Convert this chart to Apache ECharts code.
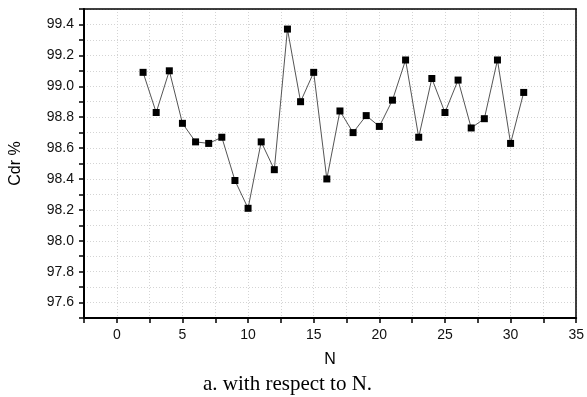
<!DOCTYPE html>
<html>
<head>
<meta charset="utf-8">
<script src="https://cdn.jsdelivr.net/npm/echarts@6/dist/echarts.min.js"></script>
<style>
  html, body { margin: 0; padding: 0; background: #fff; }
  #chart { width: 587px; height: 397px; }
</style>
</head>
<body>
<div id="chart"></div>
<script>
// Cdr % as a function of N
const nValues = [2, 3, 4, 5, 6, 7, 8, 9, 10, 11, 12, 13, 14, 15, 16, 17, 18, 19, 20, 21, 22, 23, 24, 25, 26, 27, 28, 29, 30, 31];
const cdrValues = [99.09, 98.83, 99.10, 98.76, 98.64, 98.63, 98.67, 98.39, 98.21, 98.64, 98.46, 99.37, 98.90, 99.09, 98.40, 98.84, 98.70, 98.81, 98.74, 98.91, 99.17, 98.67, 99.05, 98.83, 99.04, 98.73, 98.79, 99.17, 98.63, 98.96];
const captionText = 'a. with respect to N.';

const points = nValues.map((n, i) => [n, cdrValues[i]]);

const chart = echarts.init(document.getElementById('chart'), null, { renderer: 'canvas' });

const gridLine = { show: true, lineStyle: { color: '#d4d4d4', type: [1, 2], width: 1 } };
const labelFont = { color: '#111', fontFamily: 'Liberation Sans', fontSize: 14 };

// plain frame lines for the top and right edges of the plot box
const frameAxis = {
  type: 'value',
  axisLine: { show: true, onZero: false, lineStyle: { color: '#000', width: 1.5 } },
  axisTick: { show: false },
  axisLabel: { show: false },
  splitLine: { show: false }
};

chart.setOption({
  animation: false,
  backgroundColor: '#ffffff',
  title: {
    text: captionText,
    left: 198,
    top: 369,
    textStyle: { fontFamily: 'Liberation Serif', fontWeight: 'normal', fontSize: 21, color: '#000' }
  },
  grid: { left: 84, right: 7, top: 9, bottom: 79 },
  xAxis: [{
    type: 'value',
    min: -2.5, max: 35, interval: 2.5,
    name: 'N', nameLocation: 'middle', nameGap: 34,
    nameTextStyle: { fontFamily: 'Liberation Sans', fontSize: 16, color: '#000' },
    axisLine: { show: true, onZero: false, lineStyle: { color: '#000', width: 2 } },
    axisTick: { show: true, inside: false, length: 5, lineStyle: { color: '#000', width: 1.5 } },
    axisLabel: Object.assign({}, labelFont, {
      margin: 10,
      formatter: v => (Math.round(v * 2) % 10 === 0 ? String(Math.round(v)) : '')
    }),
    splitLine: gridLine
  }, Object.assign({}, frameAxis, { position: 'top', min: -2.5, max: 35 })],
  yAxis: [{
    type: 'value',
    min: 97.5, max: 99.5, interval: 0.1,
    name: 'Cdr %', nameLocation: 'middle', nameGap: 60,
    nameTextStyle: { fontFamily: 'Liberation Sans', fontSize: 16, color: '#000' },
    axisLine: { show: true, onZero: false, lineStyle: { color: '#000', width: 2 } },
    axisTick: { show: true, inside: false, length: 5, lineStyle: { color: '#000', width: 1.5 } },
    axisLabel: Object.assign({}, labelFont, {
      margin: 10,
      formatter: v => (Math.round(v * 10) % 2 === 0 ? (Math.round(v * 10) / 10).toFixed(1) : '')
    }),
    splitLine: gridLine
  }, Object.assign({}, frameAxis, { position: 'right', min: 97.5, max: 99.5 })],
  series: [{
    type: 'line',
    xAxisIndex: 0,
    yAxisIndex: 0,
    data: points,
    symbol: 'rect',
    symbolSize: 7,
    itemStyle: { color: '#000' },
    lineStyle: { color: '#555', width: 1 }
  }]
});
</script>
</body>
</html>
